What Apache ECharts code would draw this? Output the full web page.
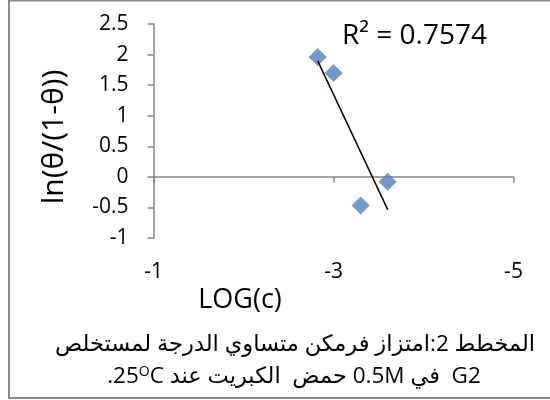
<!DOCTYPE html>
<html>
<head>
<meta charset="utf-8">
<script src="https://cdn.jsdelivr.net/npm/echarts@6/dist/echarts.min.js"></script>
<style>
  html, body { margin: 0; padding: 0; background: #fff; }
  #chart { width: 550px; height: 400px; }
</style>
</head>
<body>
<div id="chart"></div>
<script>
// Freundlich isotherm data: log of concentration vs ln(theta/(1-theta))
const logC = [-2.824, -3.0, -3.301, -3.602];
const lnTheta = [1.96, 1.70, -0.47, -0.08];
const xTickRange = [-5, -1, 2];      // min, max, interval
const yTickRange = [-1, 2.5, 0.5];   // min, max, interval
const r2Text = 'R\u00B2 = 0.7574';
const xName = 'LOG(c)';
const yName = 'ln(\u03B8/(1-\u03B8))';
// caption, right-to-left; the second line is split around the superscript "O" of 25°C
const captionLine1 = '\u202Bالمخطط 2:امتزاز فرمكن متساوي الدرجة لمستخلص\u202C';
const captionLine2Left = '.25';
const captionLine2Sup = 'O';
const captionLine2Right = 'C \u202BG2  في 0.5M حمض  الكبريت عند\u202C';

// least-squares trendline through the points
function linearFit(xs, ys) {
  const n = xs.length;
  const mx = xs.reduce((a, b) => a + b, 0) / n;
  const my = ys.reduce((a, b) => a + b, 0) / n;
  let sxy = 0, sxx = 0;
  for (let i = 0; i < n; i++) {
    sxy += (xs[i] - mx) * (ys[i] - my);
    sxx += (xs[i] - mx) * (xs[i] - mx);
  }
  const slope = sxy / sxx;
  return { slope, intercept: my - slope * mx };
}
const fit = linearFit(logC, lnTheta);
const xLo = Math.min(...logC), xHi = Math.max(...logC);
const trend = [[xHi, fit.slope * xHi + fit.intercept], [xLo, fit.slope * xLo + fit.intercept]];

const FONT = "'Open Sans', 'DejaVu Sans', sans-serif";
const axisGray = '#868686';

const chart = echarts.init(document.getElementById('chart'), null, { renderer: 'canvas' });
chart.setOption({
  animation: false,
  backgroundColor: '#ffffff',
  grid: { left: 153.6, right: 36.5, top: 24, bottom: 162, containLabel: false },
  xAxis: {
    type: 'value',
    inverse: true,
    min: xTickRange[0], max: xTickRange[1], interval: xTickRange[2],
    axisLine: { lineStyle: { color: axisGray, width: 1.5 } },
    axisTick: { show: true, length: 6, lineStyle: { color: axisGray, width: 1.5 } },
    axisLabel: { color: '#000', fontFamily: FONT, fontSize: 21, margin: 24 },
    splitLine: { show: false }
  },
  yAxis: {
    type: 'value',
    min: yTickRange[0], max: yTickRange[1], interval: yTickRange[2],
    axisLine: { show: true, lineStyle: { color: axisGray, width: 1.5 } },
    axisTick: { show: true, length: 6, lineStyle: { color: axisGray, width: 1.5 } },
    axisLabel: { color: '#000', fontFamily: FONT, fontSize: 21, margin: 25 },
    splitLine: { show: false }
  },
  series: [
    {
      type: 'scatter',
      data: logC.map((x, i) => [x, lnTheta[i]]),
      symbol: 'diamond',
      symbolSize: 18,
      itemStyle: { color: '#4F81BD' },
      z: 3
    },
    {
      type: 'line',
      data: trend,
      symbol: 'none',
      lineStyle: { color: '#000', width: 1.5 },
      z: 4
    }
  ],
  graphic: [
    {
      type: 'rect',
      shape: { x: 9, y: 0.5, width: 600, height: 397.5 },
      style: { fill: 'none', stroke: '#8a8a8a', lineWidth: 2 },
      silent: true
    },
    {
      type: 'text', x: 342, y: 36,
      style: { text: r2Text, fill: '#000', font: '28px ' + FONT, textAlign: 'left', textVerticalAlign: 'middle' }
    },
    {
      type: 'text', x: 54, y: 137, rotation: Math.PI / 2,
      style: { text: yName, fill: '#000', font: '30px ' + FONT, textAlign: 'center', textVerticalAlign: 'middle' }
    },
    {
      type: 'text', x: 240, y: 300,
      style: { text: xName, fill: '#000', font: '27px ' + FONT, textAlign: 'center', textVerticalAlign: 'middle' }
    },
    {
      type: 'text', x: 295, y: 345,
      style: { text: captionLine1, fill: '#000', font: '22.5px ' + FONT, textAlign: 'center', textVerticalAlign: 'middle' }
    },
    {
      type: 'text', x: 294, y: 377,
      style: {
        text: '{a|' + captionLine2Left + '}{s|' + captionLine2Sup + '}{a|' + captionLine2Right + '}',
        fill: '#000', textAlign: 'center', textVerticalAlign: 'middle',
        rich: {
          a: { fontFamily: FONT, fontSize: 22.5, fill: '#000', height: 26 },
          s: { fontFamily: FONT, fontSize: 14, fill: '#000', height: 26, padding: [0, 0, 10, 0] }
        }
      }
    }
  ]
});
</script>
</body>
</html>
